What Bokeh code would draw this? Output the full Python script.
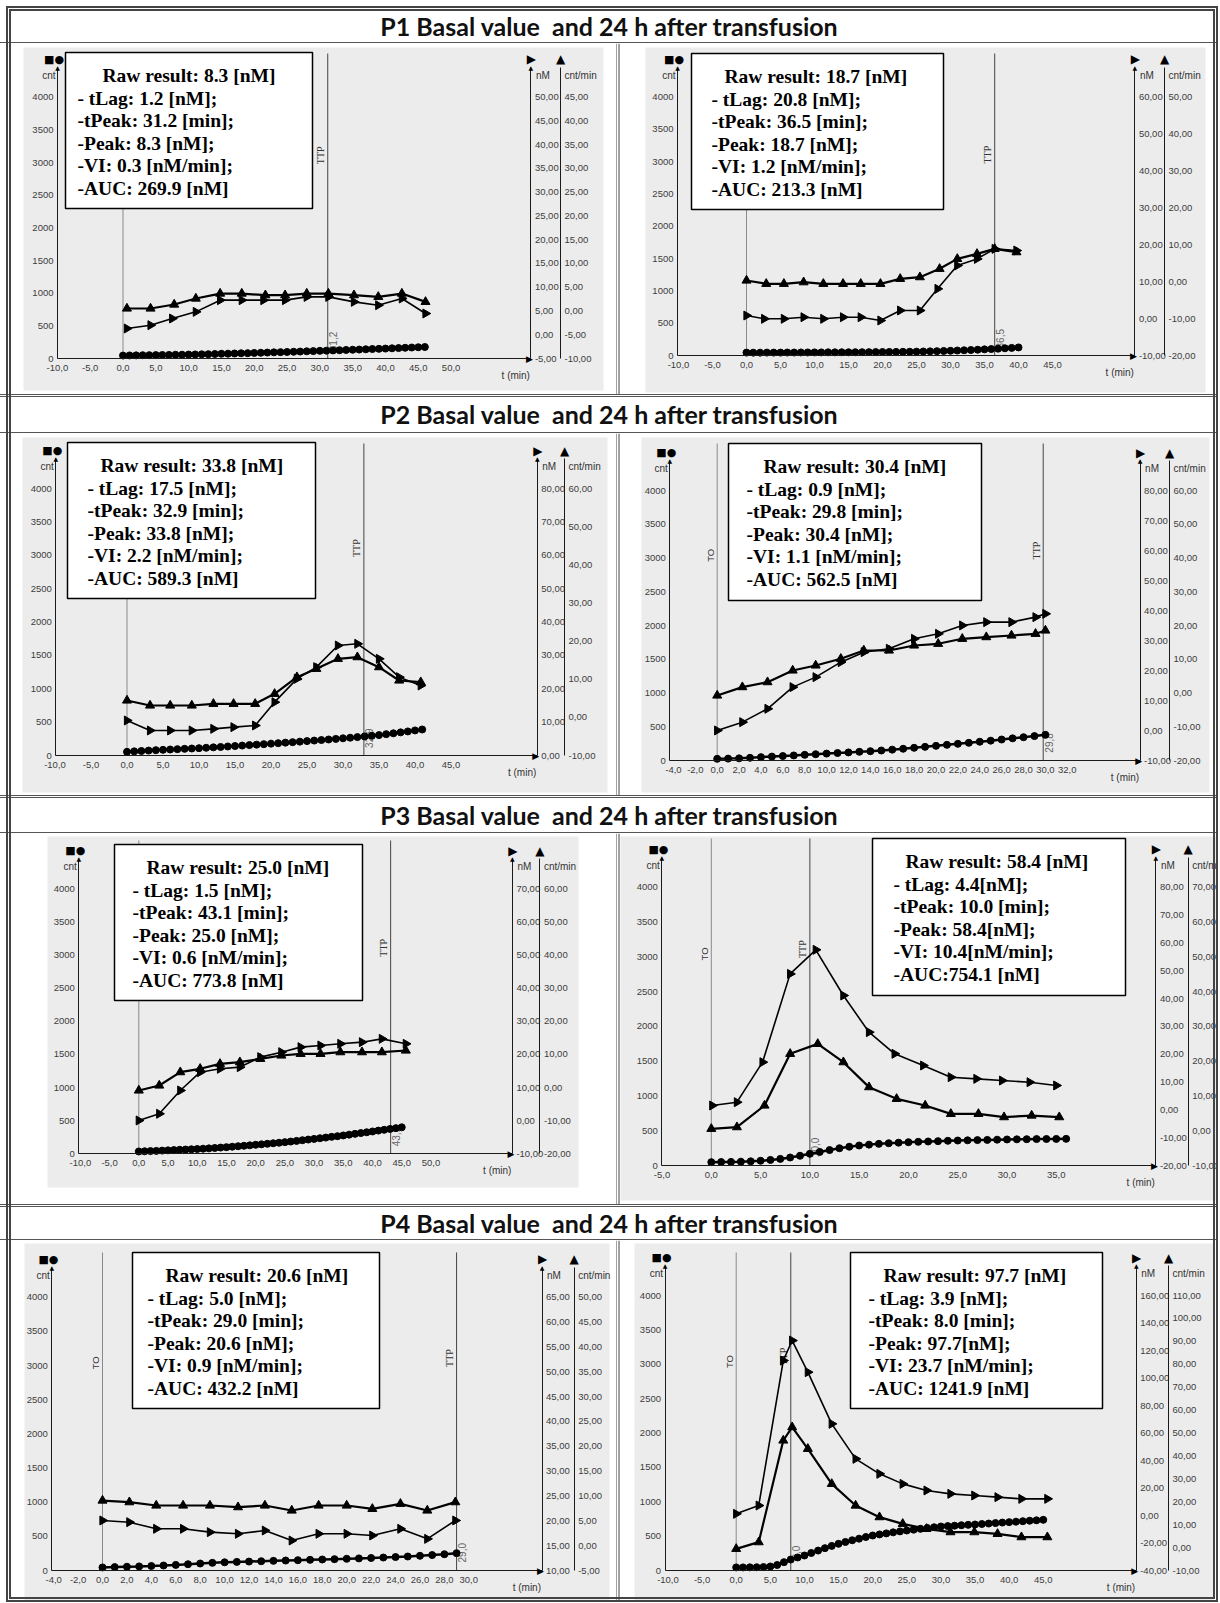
import numpy as np
from bokeh.plotting import figure
from bokeh.models import (LinearAxis, Range1d, FixedTicker, CustomJSTickFormatter,
                          Label, Div, ColumnDataSource)
from bokeh.layouts import column, row
from bokeh.embed import file_html
from bokeh.resources import INLINE
from bokeh.core.properties import value

# ============================ DATA ============================
titles = ["P1 Basal value&nbsp; and 24 h after transfusion",
          "P2 Basal value&nbsp; and 24 h after transfusion",
          "P3 Basal value&nbsp; and 24 h after transfusion",
          "P4 Basal value&nbsp; and 24 h after transfusion"]

cnt_ticks = [0, 500, 1000, 1500, 2000, 2500, 3000, 3500, 4000]

# ---- P1 basal ----
p1a_x_ticks = [-10, -5, 0, 5, 10, 15, 20, 25, 30, 35, 40, 45, 50]
p1a_nm_ticks = [-5, 0, 5, 10, 15, 20, 25, 30, 35, 40, 45, 50]
p1a_cpm_ticks = [-10, -5, 0, 5, 10, 15, 20, 25, 30, 35, 40, 45]
p1a_tri_t = [0.6, 4.2, 7.8, 11.1, 14.8, 18.1, 21.7, 24.7, 28.0, 31.3, 35.2, 38.9, 42.5, 46.1]
p1a_tri_v = [765, 765, 826, 918, 994, 994, 969, 969, 994, 994, 969, 944, 994, 867]
p1a_rt_t = [0.6, 4.2, 7.5, 11.1, 14.8, 18.1, 21.4, 24.7, 28.0, 31.3, 35.2, 38.9, 42.5, 46.1]
p1a_rt_v = [459, 510, 612, 714, 893, 893, 893, 893, 943, 943, 867, 816, 918, 689]
p1a_dot_t = [0, 1, 2, 3, 4, 5, 6, 7, 8, 9, 10, 11, 12, 13, 14, 15, 16, 17, 18, 19, 20, 21, 22, 23,
             24, 25, 26, 27, 28, 29, 30, 31, 32, 33, 34, 35, 36, 37, 38, 39, 40, 41, 42, 43, 44, 45, 46]
p1a_dot_v = [45, 47, 48, 50, 51, 52, 54, 55, 57, 58, 60, 62, 64, 66, 69, 72, 74, 77, 80, 82, 85, 88,
             91, 94, 97, 100, 103, 106, 110, 113, 117, 120, 124, 127, 131, 134, 137, 141, 145, 148,
             152, 156, 160, 164, 168, 172, 176]
p1a_ttp = 31.2
p1a_ttp_label = "31,2"
p1a_box = ["Raw result: 8.3 [nM]", "- tLag:  1.2 [nM];", "-tPeak: 31.2 [min];",
           "-Peak: 8.3 [nM];", "-VI: 0.3 [nM/min];", "-AUC: 269.9 [nM]"]

# ---- P1 24 h ----
p1b_x_ticks = [-10, -5, 0, 5, 10, 15, 20, 25, 30, 35, 40, 45]
p1b_nm_ticks = [-10, 0, 10, 20, 30, 40, 50, 60]
p1b_cpm_ticks = [-20, -10, 0, 10, 20, 30, 40, 50]
p1b_tri_t = [0, 2.9, 5.5, 8.4, 11.3, 14.2, 16.8, 19.7, 22.6, 25.5, 28.4, 31.0, 33.9, 36.5, 39.7]
p1b_tri_v = [1161, 1110, 1110, 1135, 1110, 1110, 1110, 1110, 1187, 1213, 1342, 1496, 1574, 1651, 1600]
p1b_rt_t = [0, 2.6, 5.5, 8.4, 11.3, 14.2, 16.8, 19.7, 22.6, 25.5, 28.1, 31.0, 33.9, 36.5, 39.7]
p1b_rt_v = [619, 568, 568, 593, 568, 593, 593, 542, 697, 697, 1032, 1393, 1496, 1651, 1625]
p1b_dot_t = [0, 1, 2, 3, 4, 5, 6, 7, 8, 9, 10, 11, 12, 13, 14, 15, 16, 17, 18, 19, 20, 21, 22, 23,
             24, 25, 26, 27, 28, 29, 30, 31, 32, 33, 34, 35, 36, 37, 38, 39, 40]
p1b_dot_v = [45, 44, 44, 45, 45, 45, 46, 46, 47, 47, 48, 48, 49, 49, 50, 50, 51, 51, 52, 53, 54, 55,
             56, 57, 58, 60, 62, 64, 67, 70, 73, 77, 81, 85, 90, 95, 100, 106, 112, 118, 125]
p1b_ttp = 36.5
p1b_ttp_label = "36,5"
p1b_box = ["Raw result: 18.7 [nM]", "- tLag:  20.8 [nM];", "-tPeak: 36.5 [min];",
           "-Peak: 18.7 [nM];", "-VI: 1.2 [nM/min];", "-AUC: 213.3 [nM]"]

# ---- P2 basal ----
p2a_x_ticks = [-10, -5, 0, 5, 10, 15, 20, 25, 30, 35, 40, 45]
p2a_nm_ticks = [0, 10, 20, 30, 40, 50, 60, 70, 80]
p2a_cpm_ticks = [-10, 0, 10, 20, 30, 40, 50, 60]
p2a_tri_t = [0, 3.2, 6.0, 9.0, 12.0, 14.8, 17.8, 20.5, 23.6, 26.3, 29.3, 32.0, 35.0, 37.8, 40.8]
p2a_tri_v = [825, 750, 750, 750, 775, 775, 775, 925, 1175, 1300, 1450, 1475, 1325, 1125, 1100]
p2a_rt_t = [0, 3.2, 6.0, 9.0, 12.0, 14.8, 17.8, 20.5, 23.6, 26.3, 29.3, 32.0, 35.0, 37.8, 40.8]
p2a_rt_v = [525, 375, 375, 375, 400, 425, 450, 800, 1150, 1325, 1650, 1675, 1450, 1175, 1050]
p2a_dot_t = [0, 1, 2, 3, 4, 5, 6, 7, 8, 9, 10, 11, 12, 13, 14, 15, 16, 17, 18, 19, 20, 21, 22, 23,
             24, 25, 26, 27, 28, 29, 30, 31, 32, 33, 34, 35, 36, 37, 38, 39, 40, 41]
p2a_dot_v = [55, 62, 68, 74, 80, 85, 90, 95, 100, 105, 110, 116, 122, 128, 135, 142, 149, 156, 163,
             170, 178, 185, 193, 200, 208, 216, 224, 232, 240, 249, 258, 267, 276, 286, 296, 306,
             320, 333, 347, 361, 376, 390]
p2a_ttp = 32.9
p2a_ttp_label = "32,9"
p2a_box = ["Raw result: 33.8 [nM]", "- tLag: 17.5 [nM];", "-tPeak: 32.9 [min];",
           "-Peak: 33.8 [nM];", "-VI: 2.2 [nM/min];", "-AUC: 589.3 [nM]"]

# ---- P2 24 h ----
p2b_x_ticks = [-4, -2, 0, 2, 4, 6, 8, 10, 12, 14, 16, 18, 20, 22, 24, 26, 28, 30, 32]
p2b_nm_ticks = [-10, 0, 10, 20, 30, 40, 50, 60, 70, 80]
p2b_cpm_ticks = [-20, -10, 0, 10, 20, 30, 40, 50, 60]
p2b_tri_t = [0, 2.3, 4.6, 6.9, 9.0, 11.3, 13.4, 15.7, 18.0, 20.2, 22.4, 24.6, 26.9, 29.1, 30.0]
p2b_tri_v = [963, 1087, 1161, 1334, 1408, 1507, 1630, 1630, 1704, 1729, 1803, 1828, 1852, 1877, 1926]
p2b_rt_t = [0, 2.3, 4.6, 6.9, 9.0, 11.3, 13.4, 15.7, 18.0, 20.2, 22.4, 24.6, 26.9, 29.1, 30.0]
p2b_rt_v = [445, 568, 766, 1087, 1235, 1457, 1605, 1655, 1803, 1877, 2001, 2050, 2050, 2124, 2173]
p2b_dot_t = [0, 1, 2, 3, 4, 5, 6, 7, 8, 9, 10, 11, 12, 13, 14, 15, 16, 17, 18, 19, 20, 21, 22, 23,
             24, 25, 26, 27, 28, 29, 30]
p2b_dot_v = [25, 28, 32, 40, 50, 58, 66, 75, 84, 93, 102, 111, 120, 129, 138, 148, 161, 174, 188,
             202, 217, 232, 247, 262, 278, 294, 311, 328, 345, 362, 380]
p2b_ttp = 29.8
p2b_ttp_label = "29,8"
p2b_box = ["Raw result: 30.4 [nM]", "- tLag:  0.9 [nM];", "-tPeak: 29.8 [min];",
           "-Peak: 30.4 [nM];", "-VI: 1.1 [nM/min];", "-AUC: 562.5 [nM]"]

# ---- P3 basal ----
p3a_x_ticks = [-10, -5, 0, 5, 10, 15, 20, 25, 30, 35, 40, 45, 50]
p3a_nm_ticks = [-10, 0, 10, 20, 30, 40, 50, 60, 70]
p3a_cpm_ticks = [-20, -10, 0, 10, 20, 30, 40, 50, 60]
p3a_tri_t = [0, 3.5, 7.1, 10.5, 13.9, 17.3, 20.8, 24.4, 27.7, 31.1, 34.5, 38.2, 41.6, 45.7]
p3a_tri_v = [956, 1031, 1232, 1283, 1358, 1383, 1434, 1484, 1509, 1509, 1534, 1534, 1534, 1559]
p3a_rt_t = [0, 3.5, 7.1, 10.5, 13.9, 17.3, 20.8, 24.4, 27.7, 31.1, 34.5, 38.2, 41.6, 45.7]
p3a_rt_v = [503, 604, 956, 1232, 1283, 1308, 1459, 1534, 1610, 1635, 1660, 1685, 1735, 1660]
p3a_dot_t = [0, 1, 2, 3, 4, 5, 6, 7, 8, 9, 10, 11, 12, 13, 14, 15, 16, 17, 18, 19, 20, 21, 22, 23,
             24, 25, 26, 27, 28, 29, 30, 31, 32, 33, 34, 35, 36, 37, 38, 39, 40, 41, 42, 43, 44, 45]
p3a_dot_v = [35, 38, 41, 44, 48, 52, 56, 60, 64, 68, 72, 77, 82, 88, 94, 100, 107, 114, 121, 128,
             136, 143, 151, 159, 167, 176, 185, 195, 205, 215, 225, 235, 245, 256, 266, 277, 289,
             301, 313, 325, 337, 350, 362, 375, 387, 400]
p3a_ttp = 43.1
p3a_ttp_label = "43,1"
p3a_box = ["Raw result: 25.0 [nM]", "- tLag: 1.5 [nM];", "-tPeak: 43.1 [min];",
           "-Peak: 25.0 [nM];", "-VI: 0.6 [nM/min];", "-AUC: 773.8 [nM]"]

# ---- P3 24 h ----
p3b_x_ticks = [-5, 0, 5, 10, 15, 20, 25, 30, 35]
p3b_nm_ticks = [-20, -10, 0, 10, 20, 30, 40, 50, 60, 70, 80]
p3b_cpm_ticks = [-10, 0, 10, 20, 30, 40, 50, 60, 70]
p3b_tri_t = [0, 2.6, 5.4, 8.0, 10.8, 13.4, 16.0, 18.8, 21.7, 24.3, 27.1, 29.7, 32.5, 35.3]
p3b_tri_v = [527, 551, 862, 1605, 1748, 1485, 1126, 958, 862, 742, 742, 695, 718, 695]
p3b_rt_t = [0.1, 2.6, 5.2, 8.0, 10.6, 13.4, 16.0, 18.6, 21.5, 24.3, 26.9, 29.5, 32.3, 35.0]
p3b_rt_v = [862, 910, 1485, 2754, 3100, 2443, 1916, 1605, 1437, 1269, 1245, 1221, 1197, 1150]
p3b_dot_t = [0, 1, 2, 3, 4, 5, 6, 7, 8, 9, 10, 11, 12, 13, 14, 15, 16, 17, 18, 19, 20, 21, 22, 23,
             24, 25, 26, 27, 28, 29, 30, 31, 32, 33, 34, 35, 36]
p3b_dot_v = [48, 50, 52, 55, 60, 68, 80, 95, 115, 140, 168, 195, 222, 248, 270, 287, 300, 311, 320,
             328, 335, 340, 345, 350, 355, 359, 362, 365, 368, 371, 374, 376, 378, 380, 381, 382, 383]
p3b_ttp = 10.0
p3b_ttp_label = "10,0"
p3b_box = ["Raw result: 58.4 [nM]", "- tLag: 4.4[nM];", "-tPeak: 10.0 [min];",
           "-Peak: 58.4[nM];", "-VI: 10.4[nM/min];", "-AUC:754.1 [nM]"]

# ---- P4 basal ----
p4a_x_ticks = [-4, -2, 0, 2, 4, 6, 8, 10, 12, 14, 16, 18, 20, 22, 24, 26, 28, 30]
p4a_nm_ticks = [10, 15, 20, 25, 30, 35, 40, 45, 50, 55, 60, 65]
p4a_cpm_ticks = [-5, 0, 5, 10, 15, 20, 25, 30, 35, 40, 45, 50]
p4a_tri_t = [0, 2.2, 4.4, 6.6, 8.8, 11.1, 13.3, 15.5, 17.7, 20.0, 22.1, 24.4, 26.6, 28.9]
p4a_tri_v = [1024, 1000, 951, 951, 951, 927, 951, 878, 951, 951, 902, 976, 878, 1000]
p4a_rt_t = [0, 2.2, 4.4, 6.6, 8.8, 11.1, 13.3, 15.5, 17.7, 20.0, 22.1, 24.4, 26.6, 28.9]
p4a_rt_v = [732, 707, 610, 610, 561, 537, 585, 439, 537, 537, 512, 610, 463, 732]
p4a_dot_t = [0, 1, 2, 3, 4, 5, 6, 7, 8, 9, 10, 11, 12, 13, 14, 15, 16, 17, 18, 19, 20, 21, 22, 23,
             24, 25, 26, 27, 28, 29]
p4a_dot_v = [45, 50, 55, 60, 66, 73, 82, 92, 102, 112, 120, 126, 131, 136, 141, 146, 151, 156, 161,
             166, 171, 177, 183, 190, 197, 205, 215, 226, 238, 254]
p4a_ttp = 29.0
p4a_ttp_label = "29,0"
p4a_box = ["Raw result: 20.6 [nM]", "- tLag: 5.0 [nM];", "-tPeak: 29.0 [min];",
           "-Peak: 20.6 [nM];", "-VI: 0.9 [nM/min];", "-AUC: 432.2 [nM]"]

# ---- P4 24 h ----
p4b_x_ticks = [-10, -5, 0, 5, 10, 15, 20, 25, 30, 35, 40, 45]
p4b_nm_ticks = [-40, -20, 0, 20, 40, 60, 80, 100, 120, 140, 160]
p4b_cpm_ticks = [-10, 0, 10, 20, 30, 40, 50, 60, 70, 80, 90, 100, 110]
p4b_tri_t = [0, 3.3, 6.9, 8.2, 10.5, 14.0, 17.5, 21.0, 24.4, 27.9, 31.4, 34.9, 38.3, 41.8, 45.6]
p4b_tri_v = [315, 412, 1891, 2085, 1770, 1260, 945, 776, 679, 606, 558, 558, 533, 485, 485]
p4b_rt_t = [0, 3.3, 6.9, 8.2, 10.5, 14.0, 17.5, 21.0, 24.4, 27.9, 31.4, 34.9, 38.3, 41.8, 45.6]
p4b_rt_v = [824, 945, 3054, 3345, 2885, 2133, 1624, 1406, 1260, 1164, 1115, 1091, 1067, 1042, 1042]
p4b_dot_t = [0, 1, 2, 3, 4, 5, 6, 7, 8, 9, 10, 11, 12, 13, 14, 15, 16, 17, 18, 19, 20, 21, 22, 23,
             24, 25, 26, 27, 28, 29, 30, 31, 32, 33, 34, 35, 36, 37, 38, 39, 40, 41, 42, 43, 44, 45]
p4b_dot_v = [45, 45, 46, 47, 50, 58, 80, 121, 160, 190, 218, 255, 290, 325, 358, 388, 415, 440, 463,
             487, 509, 525, 540, 555, 569, 582, 594, 606, 618, 629, 640, 646, 652, 658, 664, 669,
             676, 683, 690, 697, 703, 710, 717, 724, 730, 737]
p4b_ttp = 8.0
p4b_ttp_label = "8,0"
p4b_box = ["Raw result: 97.7 [nM]", "- tLag:  3.9 [nM];", "-tPeak: 8.0 [min];",
           "-Peak: 97.7[nM];", "-VI: 23.7 [nM/min];", "-AUC: 1241.9 [nM]"]

show_t0_label = {"p1a": False, "p1b": False, "p2a": False, "p2b": True,
                 "p3a": False, "p3b": True, "p4a": True, "p4b": True}

# ====================== LAYOUT GEOMETRY (page pixels) ======================
LW, RW = 617, 601
ROWS = [(43, 351), (433, 362), (833, 371), (1240, 360)]   # (top, height) of panel rows
TITLE_H = [43, 39, 38, 36]

GEOM = {
    "p1a": dict(side=0, r=0, fx0=57, fx1=530.4, cx=560, zx=122.5, ppm=6.562, fy1=358, ppc=0.06533,
                box=(65, 312, 52, 208), rdx=37, tdx=12, gray=(23, 603, 47, 390), ltop=53),
    "p1b": dict(side=1, r=0, fx0=677, fx1=1134.4, cx=1164, zx=746, ppm=6.80, fy1=355, ppc=0.06458,
                box=(691, 943, 53, 209), rdx=33, tdx=20, gray=(645, 1205, 47, 392), ltop=53),
    "p2a": dict(side=0, r=1, fx0=55.3, fx1=536.8, cx=564, zx=126.5, ppm=7.2, fy1=755, ppc=0.066675,
                box=(67, 315, 442, 598), rdx=33, tdx=20, gray=(22, 607, 437, 792), ltop=443),
    "p2b": dict(side=1, r=1, fx0=669.3, fx1=1139.6, cx=1169, zx=716.7, ppm=10.94, fy1=760, ppc=0.0675,
                box=(728, 981, 443, 600), rdx=35, tdx=18, gray=(641, 1209, 437, 792), ltop=443),
    "p3a": dict(side=0, r=2, fx0=78.3, fx1=511.9, cx=539.4, zx=138.3, ppm=5.843, fy1=1153.3, ppc=0.06625,
                box=(114, 362, 844, 1000), rdx=32, tdx=18, gray=(47, 578, 836, 1187), ltop=840),
    "p3b": dict(side=1, r=2, fx0=661.4, fx1=1155.4, cx=1187.7, zx=710.8, ppm=9.857, fy1=1165, ppc=0.06958,
                box=(872, 1125, 838, 995), rdx=33, tdx=21, gray=(620, 1218, 836, 1200), ltop=838),
    "p4a": dict(side=0, r=3, fx0=51.4, fx1=541.5, cx=573.7, zx=102, ppm=12.21, fy1=1570, ppc=0.06833,
                box=(132, 379, 1252, 1408), rdx=33, tdx=15, gray=(24, 609, 1243, 1600), ltop=1252),
    "p4b": dict(side=1, r=3, fx0=664.5, fx1=1135.7, cx=1168, zx=735.7, ppm=6.824, fy1=1570, ppc=0.06875,
                box=(850, 1102, 1252, 1408), rdx=33, tdx=18, gray=(634, 1213, 1243, 1600), ltop=1252),
}

BG = "#ececec"
AX = "#1a1a1a"
TK = "#3c3c3c"


def style_axis(ax, standoff=4):
    ax.axis_line_color = AX
    ax.axis_line_width = 1
    ax.major_tick_in = 0
    ax.major_tick_out = 0
    ax.minor_tick_in = 0
    ax.minor_tick_out = 0
    ax.major_label_text_font = "Liberation Sans"
    ax.major_label_text_font_size = "9.5px"
    ax.major_label_text_color = TK
    ax.major_label_standoff = standoff


def add_label(p, x, y, text, size="10px", font="Liberation Sans", align="left",
              baseline="middle", color="#333333", style="normal"):
    p.add_layout(Label(x=x, y=y, text=text, text_font=font, text_font_size=size,
                       text_align=align, text_baseline=baseline, text_color=color,
                       text_font_style=style))


def make_panel(key, d):
    g = GEOM[key]
    ox = 0 if g["side"] == 0 else LW
    w = LW if g["side"] == 0 else RW
    oy, h = ROWS[g["r"]]
    fx0, fx1, cx, fy1 = g["fx0"], g["fx1"], g["cx"], g["fy1"]
    zx, ppm, ppc = g["zx"], g["ppm"], g["ppc"]

    def X(px):
        return (px - zx) / ppm

    def Y(py):
        return (fy1 - py) / ppc

    yb, yt = Y(oy + h), Y(oy)
    p = figure(width=w, height=h, x_range=Range1d(X(ox), X(ox + w)), y_range=Range1d(yb, yt),
               x_axis_location=None, y_axis_location=None, min_border=0,
               output_backend="svg", toolbar_location=None,
               background_fill_color="white", border_fill_color="white")
    p.xgrid.visible = False
    p.ygrid.visible = False
    p.outline_line_color = None

    # scanned-chart backdrop and cell divider
    gx0, gx1, gy0, gy1 = g["gray"]
    p.quad(left=[X(gx0)], right=[X(gx1)], top=[Y(gy0)], bottom=[Y(gy1)],
           fill_color=BG, line_color=None, level="underlay")
    div_x = 616.5 if g["side"] == 0 else 618.5
    p.segment(x0=[X(div_x)], x1=[X(div_x)], y0=[yb], y1=[yt], line_color="#444444", line_width=1)

    Y4000 = fy1 - 4000 * ppc
    top_cnt = 4000 + 30 / ppc

    # ---- axes (placed at fixed locations inside the canvas) ----
    xt = d["x_ticks"]
    xa = LinearAxis(fixed_location=0, bounds=(min(X(fx0), xt[0]), X(fx1)),
                    ticker=FixedTicker(ticks=xt),
                    formatter=CustomJSTickFormatter(code="return tick.toFixed(1).replace('.', ',');"))
    style_axis(xa, standoff=6)
    p.add_layout(xa, "below")

    ya = LinearAxis(fixed_location=X(fx0), bounds=(0, top_cnt), ticker=FixedTicker(ticks=cnt_ticks),
                    formatter=CustomJSTickFormatter(code="return tick.toFixed(0);"))
    style_axis(ya, standoff=4)
    p.add_layout(ya, "left")

    nm, cpm = d["nm_ticks"], d["cpm_ticks"]

    def to_nm(c):
        return nm[0] + c * (nm[-1] - nm[0]) / 4000.0

    def to_cpm(c):
        return cpm[0] + c * (cpm[-1] - cpm[0]) / 4000.0

    p.extra_y_ranges = {"nm": Range1d(to_nm(yb), to_nm(yt)), "cpm": Range1d(to_cpm(yb), to_cpm(yt))}
    fmt2 = "return tick.toFixed(2).replace('.', ',');"
    a_nm = LinearAxis(y_range_name="nm", fixed_location=X(fx1), ticker=FixedTicker(ticks=nm),
                      formatter=CustomJSTickFormatter(code=fmt2), bounds=(nm[0], to_nm(top_cnt)))
    a_cpm = LinearAxis(y_range_name="cpm", fixed_location=X(cx), ticker=FixedTicker(ticks=cpm),
                       formatter=CustomJSTickFormatter(code=fmt2), bounds=(cpm[0], to_cpm(top_cnt)))
    style_axis(a_nm)
    style_axis(a_cpm)
    p.add_layout(a_nm, "right")
    p.add_layout(a_cpm, "right")

    # ---- T0 / TTP lines ----
    ltop = Y(g["ltop"])
    p.segment(x0=[0], y0=[0], x1=[0], y1=[ltop], line_color="#8a8a8a", line_width=1)
    p.segment(x0=[d["ttp"]], y0=[0], x1=[d["ttp"]], y1=[ltop], line_color="#444444", line_width=1)
    p.text(x=[d["ttp"] - 1.5 / ppm], y=[3110], text=["TTP"], angle=np.pi / 2,
           text_align="center", text_baseline="bottom", text_font=value("Liberation Serif"),
           text_font_size="10px", text_color="#333333")
    if d["t0_label"]:
        p.text(x=[-1.5 / ppm], y=[3040], text=["TO"], angle=np.pi / 2,
               text_align="center", text_baseline="bottom", text_font=value("Liberation Sans"),
               text_font_size="9.5px", text_color="#333333")
    p.text(x=[d["ttp"] + 1.5 / ppm], y=[260], text=[d["ttp_label"]], angle=np.pi / 2,
           text_align="center", text_baseline="top", text_font=value("Liberation Sans"),
           text_font_size="10px", text_color="#666666")

    # ---- series ----
    p.line(d["dot_t"], d["dot_v"], line_color="black", line_width=2.5)
    p.scatter(d["dot_t"], d["dot_v"], marker="circle", size=7, fill_color="black", line_color="black")
    p.line(d["tri_t"], d["tri_v"], line_color="black", line_width=2.2)
    p.scatter(d["tri_t"], d["tri_v"], marker="triangle", size=9, fill_color="black", line_color="black")
    p.line(d["rt_t"], d["rt_v"], line_color="black", line_width=1.6)
    p.scatter(d["rt_t"], d["rt_v"], marker="triangle", angle=-np.pi / 2, size=9,
              fill_color="black", line_color="black")

    # ---- result box ----
    bx0, bx1, by0, by1 = g["box"]
    p.quad(left=[X(bx0)], right=[X(bx1)], top=[Y(by0)], bottom=[Y(by1)],
           fill_color="white", line_color="black", line_width=1.5)
    xs, ys = [], []
    for i, _ in enumerate(d["box"]):
        xs.append(X(bx0 + (g["rdx"] if i == 0 else g["tdx"])))
        ys.append(Y(by0 + 23 + 22.6 * i))
    src = ColumnDataSource(dict(x=xs, y=ys, t=d["box"]))
    p.text(x="x", y="y", text="t", source=src, text_font=value("Liberation Serif"),
           text_font_style="bold", text_font_size="19.5px", text_baseline="middle",
           text_align="left", text_color="black")

    # ---- axis decorations ----
    add_label(p, X(fx0 - 2), Y(Y4000 - 22), "cnt", align="right")
    add_label(p, X(fx0 - 3.5), Y(Y4000 - 38), "■●", size="11px", font="DejaVu Sans",
              align="center", color="black", style="bold")
    add_label(p, X(fx0), Y(Y4000 - 30), "▲", size="6px", font="DejaVu Sans",
              align="center", color="black")
    add_label(p, X(fx1 + 0.5), Y(Y4000 - 38), "▶", size="12px", font="DejaVu Sans",
              align="center", color="black")
    add_label(p, X(fx1), Y(Y4000 - 30), "▲", size="6px", font="DejaVu Sans",
              align="center", color="black")
    add_label(p, X(fx1 + 5), Y(Y4000 - 22), "nM")
    add_label(p, X(cx), Y(Y4000 - 38), "▲", size="12px", font="DejaVu Sans",
              align="center", color="black")
    add_label(p, X(cx + 4), Y(Y4000 - 22), "cnt/min")
    add_label(p, X(fx1 - 1.5), 0, "▶", size="9px", font="DejaVu Sans", align="center",
              color="black")
    add_label(p, X(fx1 - 1), Y(fy1 + 17), "t (min)", align="right")
    return p


def panel_data(prefix):
    gl = globals()
    return dict(x_ticks=gl[prefix + "_x_ticks"], nm_ticks=gl[prefix + "_nm_ticks"],
                cpm_ticks=gl[prefix + "_cpm_ticks"],
                tri_t=gl[prefix + "_tri_t"], tri_v=gl[prefix + "_tri_v"],
                rt_t=gl[prefix + "_rt_t"], rt_v=gl[prefix + "_rt_v"],
                dot_t=gl[prefix + "_dot_t"], dot_v=gl[prefix + "_dot_v"],
                ttp=gl[prefix + "_ttp"], ttp_label=gl[prefix + "_ttp_label"],
                box=gl[prefix + "_box"], t0_label=show_t0_label[prefix])


def title_div(text, i):
    h = TITLE_H[i]
    top_b = 0 if i == 0 else 3
    pad = 10 if i == 0 else 0
    lh = h - top_b - 1 - pad
    html = ("<div style=\"width:%dpx;height:%dpx;line-height:%dpx;padding-top:%dpx;text-align:center;"
            "font-family:Lato;font-weight:bold;font-size:25px;color:#111;white-space:nowrap;\">%s</div>"
            % (LW + RW, lh, lh, pad, text))
    st = {"border-bottom": "1px solid #555555", "box-sizing": "border-box", "background": "white",
          "overflow": "hidden"}
    if top_b:
        st["border-top"] = "3px double #555555"
    return Div(text=html, width=LW + RW, height=h, margin=(0, 0, 0, 0), styles=st)


children = []
for i, (a, b) in enumerate([("p1a", "p1b"), ("p2a", "p2b"), ("p3a", "p3b"), ("p4a", "p4b")]):
    children.append(title_div(titles[i], i))
    children.append(row(make_panel(a, panel_data(a)), make_panel(b, panel_data(b))))

# outer double frame of the whole table (fixed overlay, no layout space)
frame_html = ("<div style=\"position:fixed;left:6px;top:6px;width:1212px;height:1596px;"
              "border:5px double #444444;box-sizing:border-box;pointer-events:none;z-index:1000;\"></div>")
children.append(Div(text=frame_html, width=LW + RW, height=0, margin=(0, 0, 0, 0)))

layout = column(*children)

open("out.html", "w").write(file_html(layout, INLINE))
